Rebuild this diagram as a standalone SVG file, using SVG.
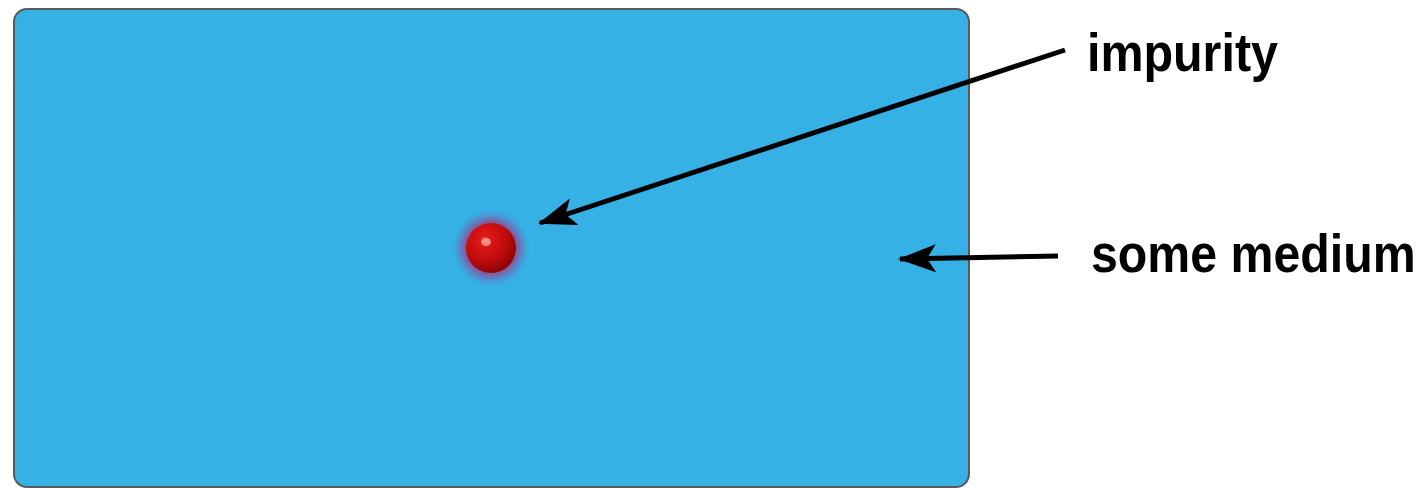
<svg xmlns="http://www.w3.org/2000/svg" width="1427" height="488" viewBox="0 0 1427 488">
  <style>
    .medium { fill: #35B1E6; stroke: #5a5a5a; stroke-width: 2; }
    .conn { stroke: #000; stroke-width: 5; fill: none; }
    .label { font-family: "Liberation Sans", Arial, sans-serif; font-weight: bold; font-size: 54px; fill: #000; }
  </style>
  <defs>
    <marker id="head" markerUnits="userSpaceOnUse" markerWidth="40" markerHeight="30" refX="36" refY="14" orient="auto" viewBox="0 0 40 28">
      <path d="M38,14 L0,0 L9,14 L0,28 Z" fill="#000"/>
    </marker>
    <!-- soft glow around the particle -->
    <radialGradient id="halo" cx="0.5" cy="0.5" r="0.5">
      <stop offset="0.6" stop-color="#9a4a80" stop-opacity="1"/>
      <stop offset="0.72" stop-color="#7a5fa8" stop-opacity="0.75"/>
      <stop offset="0.88" stop-color="#5a80c8" stop-opacity="0.3"/>
      <stop offset="1" stop-color="#35B1E6" stop-opacity="0"/>
    </radialGradient>
    <radialGradient id="ball" cx="0.38" cy="0.33" r="0.7">
      <stop offset="0" stop-color="#f06050"/>
      <stop offset="0.12" stop-color="#e01818"/>
      <stop offset="0.6" stop-color="#c00c0c"/>
      <stop offset="1" stop-color="#8a0505"/>
    </radialGradient>
  </defs>

  <g id="medium">
    <rect class="medium" x="14" y="9" width="955" height="478" rx="13" ry="13"/>
  </g>

  <g id="impurity-particle">
    <circle cx="491" cy="248" r="40" fill="url(#halo)"/>
    <circle cx="491" cy="248" r="25" fill="url(#ball)"/>
    <ellipse cx="486" cy="242" rx="5" ry="4" fill="#f8a090" opacity="0.85"/>
  </g>

  <g id="connectors">
    <line class="conn" x1="1065" y1="50" x2="540" y2="223" marker-end="url(#head)"/>
    <line class="conn" x1="1058" y1="256" x2="900" y2="259" marker-end="url(#head)"/>
  </g>

  <!-- labels are horizontally condensed -->
  <g id="label-impurity" transform="translate(1087,71) scale(0.88,1)">
    <text class="label" x="0" y="0" textLength="217" lengthAdjust="spacingAndGlyphs">impurity</text>
  </g>
  <g id="label-medium" transform="translate(1091,272) scale(0.88,1)">
    <text class="label" x="0" y="0" textLength="369" lengthAdjust="spacingAndGlyphs">some medium</text>
  </g>
</svg>
